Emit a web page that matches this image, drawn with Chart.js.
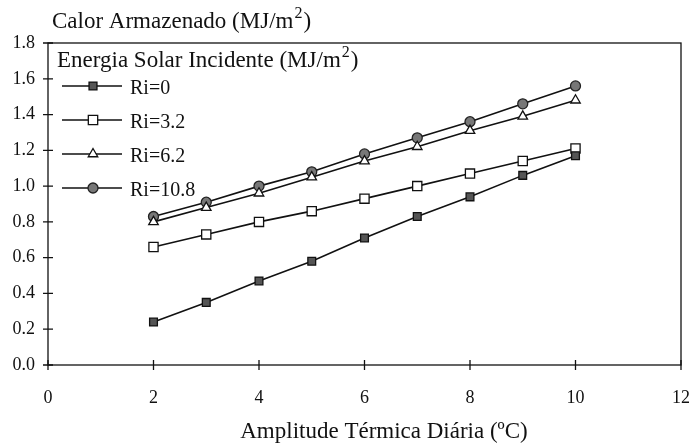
<!DOCTYPE html>
<html>
<head>
<meta charset="utf-8">
<script src="https://cdn.jsdelivr.net/npm/chart.js@4/dist/chart.umd.min.js"></script>
<style>
html,body{margin:0;padding:0;background:#fff;}
#wrap{width:691px;height:445px;}
</style>
</head>
<body>
<div id="wrap"><canvas id="c" width="691" height="445"></canvas></div>
<script>
const xValues = [2, 3, 4, 5, 6, 7, 8, 9, 10];
const ri0   = [0.24, 0.35, 0.47, 0.58, 0.71, 0.83, 0.94, 1.06, 1.17];
const ri32  = [0.66, 0.73, 0.80, 0.86, 0.93, 1.00, 1.07, 1.14, 1.21];
const ri62  = [0.80, 0.88, 0.96, 1.05, 1.14, 1.22, 1.31, 1.39, 1.48];
const ri108 = [0.83, 0.91, 1.00, 1.08, 1.18, 1.27, 1.36, 1.46, 1.56];
const seriesNames = ['Ri=0', 'Ri=3.2', 'Ri=6.2', 'Ri=10.8'];
const yTitle1 = ['Calor Armazenado (MJ/m', '2', ')'];
const yTitle2 = ['Energia Solar Incidente (MJ/m', '2', ')'];
const xTitle = 'Amplitude T\u00E9rmica Di\u00E1ria (\u00BAC)';

const FONT = '"Liberation Serif", "Times New Roman", serif';
const markers = [
  {pointStyle: 'rect', radius: 5.5, bg: '#555', border: '#111'},
  {pointStyle: 'rect', radius: 6.5, bg: '#fff', border: '#111'},
  {pointStyle: 'triangle', radius: 5.5, bg: '#fff', border: '#111'},
  {pointStyle: 'circle', radius: 5, bg: '#777', border: '#222'}
];
const seriesData = [ri0, ri32, ri62, ri108];

const datasets = seriesData.map((arr, k) => ({
  label: seriesNames[k],
  data: xValues.map((x, i) => ({x: x, y: arr[i]})),
  borderColor: '#111',
  borderWidth: 1.6,
  pointStyle: markers[k].pointStyle,
  pointRadius: markers[k].radius,
  pointBackgroundColor: markers[k].bg,
  pointBorderColor: markers[k].border,
  pointBorderWidth: 1.3,
  tension: 0,
  fill: false
}));

function drawMarker(ctx, m, x, y) {
  ctx.save();
  ctx.fillStyle = m.bg;
  ctx.strokeStyle = m.border;
  ctx.lineWidth = 1.3;
  ctx.beginPath();
  if (m.pointStyle === 'rect') {
    const s = m.radius * 0.72;
    ctx.rect(x - s, y - s, 2 * s, 2 * s);
  } else if (m.pointStyle === 'triangle') {
    const r = m.radius;
    ctx.moveTo(x, y - r);
    ctx.lineTo(x + r * 0.866, y + r * 0.5);
    ctx.lineTo(x - r * 0.866, y + r * 0.5);
    ctx.closePath();
  } else {
    ctx.arc(x, y, m.radius, 0, Math.PI * 2);
  }
  ctx.fill();
  ctx.stroke();
  ctx.restore();
}

function drawSupText(ctx, parts, x, y, size) {
  ctx.font = size + 'px ' + FONT;
  ctx.fillText(parts[0], x, y);
  x += ctx.measureText(parts[0]).width + 1;
  ctx.font = Math.round(size * 0.68) + 'px ' + FONT;
  ctx.fillText(parts[1], x, y - size * 0.42);
  x += ctx.measureText(parts[1]).width + 1;
  ctx.font = size + 'px ' + FONT;
  ctx.fillText(parts[2], x, y);
}

const decor = {
  id: 'decor',
  afterDraw(chart) {
    const ctx = chart.ctx;
    const a = chart.chartArea;
    const xs = chart.scales.x, ys = chart.scales.y;
    ctx.save();
    ctx.strokeStyle = '#111';
    ctx.lineWidth = 1.3;
    ctx.strokeRect(a.left, a.top, a.right - a.left, a.bottom - a.top);
    ctx.beginPath();
    ys.ticks.forEach(t => {
      const py = ys.getPixelForValue(t.value);
      ctx.moveTo(a.left - 5, py); ctx.lineTo(a.left + 5, py);
    });
    xs.ticks.forEach(t => {
      const px = xs.getPixelForValue(t.value);
      ctx.moveTo(px, a.bottom - 5); ctx.lineTo(px, a.bottom + 5);
    });
    ctx.stroke();
    ctx.fillStyle = '#111';
    ctx.textBaseline = 'alphabetic';
    ctx.textAlign = 'left';
    drawSupText(ctx, yTitle1, 52, 28, 23);
    drawSupText(ctx, yTitle2, 57, 67, 23);
    // x title
    ctx.font = '23px ' + FONT;
    ctx.textAlign = 'center';
    ctx.textBaseline = 'middle';
    ctx.fillText(xTitle, 384, 432);
    // legend
    ctx.textAlign = 'left';
    ctx.font = '20px ' + FONT;
    chart.data.datasets.forEach((ds, k) => {
      const ly = 86 + k * 34;
      ctx.beginPath();
      ctx.lineWidth = 1.6;
      ctx.strokeStyle = '#111';
      ctx.moveTo(62, ly); ctx.lineTo(122, ly);
      ctx.stroke();
      drawMarker(ctx, markers[k], 93, ly);
      ctx.fillStyle = '#111';
      ctx.fillText(ds.label, 130, ly + 3);
    });
    ctx.restore();
  }
};

new Chart(document.getElementById('c'), {
  type: 'line',
  data: {datasets: datasets},
  options: {
    responsive: false,
    animation: false,
    layout: {padding: {left: 0, right: 10, top: 43, bottom: 0}},
    plugins: {legend: {display: false}, tooltip: {enabled: false}},
    scales: {
      x: {
        type: 'linear', min: 0, max: 12,
        ticks: {stepSize: 2, color: '#111', font: {family: FONT, size: 18}, padding: 22, maxRotation: 0},
        grid: {display: false, drawTicks: false},
        border: {display: false},
        title: {display: false},
        afterFit(s) { s.height = 80; s.paddingRight = 0; s.paddingLeft = 0; }
      },
      y: {
        min: 0, max: 1.8,
        ticks: {stepSize: 0.2, color: '#111', font: {family: FONT, size: 18}, padding: 13,
          callback: v => v.toFixed(1)},
        grid: {display: false, drawTicks: false},
        border: {display: false},
        afterFit(s) { s.width = 48; s.paddingTop = 0; s.paddingBottom = 0; }
      }
    }
  },
  plugins: [decor]
});
</script>
</body>
</html>
